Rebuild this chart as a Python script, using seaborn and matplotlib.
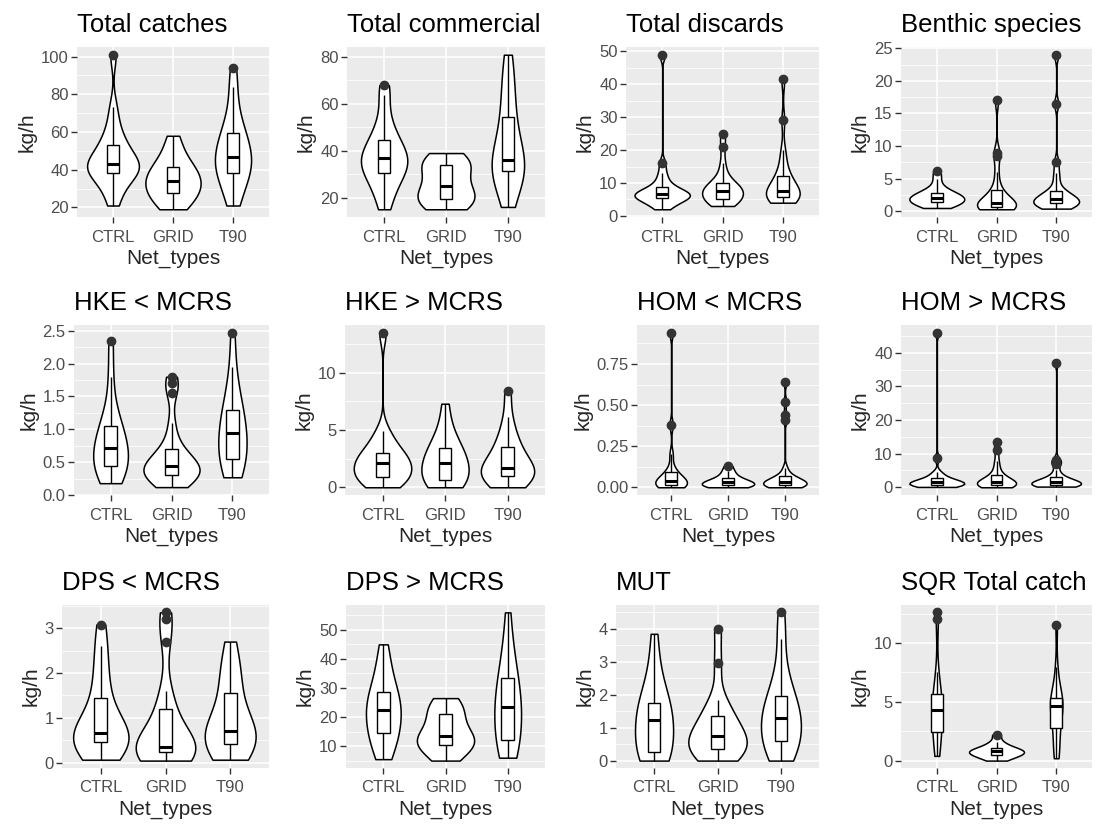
import matplotlib
matplotlib.use('Agg')
import matplotlib.pyplot as plt
import seaborn as sns
import numpy as np
import pandas as pd

net_types = ['CTRL', 'GRID', 'T90']

# values (kg/h per haul), one list per net type
catch_ctrl = [21, 27, 32, 35, 38, 39, 40, 41, 42, 43, 44, 46, 49, 52, 54, 58, 64, 73, 101]
catch_grid = [19, 21, 23, 25, 27, 28, 30, 32, 33, 34, 35, 37, 39, 41, 42, 44, 48, 53, 58]
catch_t90 = [21, 25, 30, 34, 37, 39, 41, 43, 45, 46, 47, 50, 54, 57, 59, 60, 66, 74, 84, 94]

comm_ctrl = [15, 20, 24, 27, 30, 31, 33, 34, 35, 37, 38, 39, 41, 43, 46, 49, 54, 64, 68]
comm_grid = [15, 16, 17, 18, 19, 20, 21, 23, 25, 25, 28, 32, 33, 34, 35, 36, 37, 39]
comm_t90 = [16, 20, 25, 28, 30, 31, 32, 33, 34, 35, 35, 37, 40, 44, 48, 52, 55, 60, 66, 70, 76, 81]

disc_ctrl = [2, 3, 4, 4.5, 5, 5.5, 5.8, 6, 6.3, 6.5, 6.7, 7, 7.5, 8, 8.5, 9.5, 11, 13, 16, 49]
disc_grid = [3, 3.5, 4, 4.5, 5, 5.2, 5.8, 6.5, 7, 7.5, 7.5, 8, 8.5, 9, 9.5, 10, 11, 13, 16, 21, 25]
disc_t90 = [4, 4.5, 5, 5.2, 5.5, 5.7, 6.3, 6.8, 7.2, 7.4, 7.6, 8.5, 9.5, 10.5, 11.5, 12.2, 14, 17, 20, 29, 41.5]

bent_ctrl = [0.5, 0.8, 1, 1.2, 1.3, 1.5, 1.7, 1.9, 2, 2.1, 2.3, 2.5, 2.7, 2.9, 3.2, 3.8, 5, 6.2]
bent_grid = [0.3, 0.4, 0.5, 0.5, 0.6, 0.7, 0.8, 0.9, 1, 1.1, 1.3, 1.6, 2, 2.5, 3, 4, 6, 8.5, 9, 17]
bent_t90 = [0.4, 0.6, 0.8, 1, 1, 1.2, 1.4, 1.5, 1.6, 1.7, 1.8, 2.1, 2.4, 2.7, 2.9, 3.1, 4.5, 5.8, 7.5, 16.5, 24]

hke_lo_ctrl = [0.18, 0.25, 0.32, 0.4, 0.44, 0.5, 0.58, 0.65, 0.72, 0.78, 0.85, 0.95, 1.05, 1.15, 1.35, 1.8, 2.35]
hke_lo_grid = [0.12, 0.16, 0.2, 0.26, 0.3, 0.31, 0.34, 0.37, 0.4, 0.43, 0.44, 0.48, 0.53, 0.58, 0.64, 0.7, 0.85, 1.1, 1.55, 1.7, 1.8]
hke_lo_t90 = [0.27, 0.35, 0.45, 0.52, 0.55, 0.65, 0.75, 0.85, 0.95, 1.0, 1.1, 1.2, 1.3, 1.45, 1.6, 1.95, 2.47]

hke_hi_ctrl = [0, 0.3, 0.6, 0.8, 0.9, 1.2, 1.5, 1.8, 2.1, 2.3, 2.5, 2.8, 3, 3.5, 4.2, 4.9, 13.5]
hke_hi_grid = [0, 0.2, 0.4, 0.5, 0.6, 1.0, 1.4, 1.8, 2.1, 2.4, 2.7, 3.0, 3.4, 3.8, 4.5, 5.5, 7.3]
hke_hi_t90 = [0, 0.3, 0.6, 0.9, 1.0, 1.2, 1.4, 1.55, 1.7, 2.0, 2.4, 3.0, 3.5, 4.0, 4.8, 6.1, 8.4]

hom_lo_ctrl = [0, 0, 0.005, 0.01, 0.015, 0.02, 0.03, 0.035, 0.04, 0.05, 0.06, 0.07, 0.09, 0.12, 0.2, 0.38, 0.94]
hom_lo_grid = [0, 0, 0.005, 0.01, 0.015, 0.02, 0.025, 0.03, 0.035, 0.04, 0.05, 0.06, 0.08, 0.1, 0.13]
hom_lo_t90 = [0, 0, 0, 0.005, 0.01, 0.01, 0.015, 0.02, 0.02, 0.025, 0.03, 0.03, 0.035, 0.04, 0.045,
              0.05, 0.055, 0.06, 0.07, 0.09, 0.12, 0.41, 0.44, 0.52, 0.64]

hom_hi_ctrl = [0.1, 0.3, 0.5, 0.6, 0.8, 1.0, 1.2, 1.3, 1.5, 1.8, 2.0, 2.2, 2.8, 3.5, 4.5, 8.7, 46]
hom_hi_grid = [0, 0.2, 0.4, 0.5, 0.7, 0.9, 1.1, 1.3, 1.5, 1.8, 2.1, 2.5, 3, 4, 5.5, 7.7, 11, 13.5]
hom_hi_t90 = [0.2, 0.3, 0.4, 0.5, 0.6, 0.7, 0.8, 0.9, 1.0, 1.2, 1.4, 1.5, 1.6, 1.8, 2.0, 2.3, 2.6,
              3.0, 3.8, 5.0, 7.0, 7.6, 8.2, 37]

dps_lo_ctrl = [0.07, 0.15, 0.3, 0.4, 0.45, 0.5, 0.55, 0.6, 0.65, 0.7, 0.8, 0.95, 1.2, 1.52, 1.8, 2.2, 2.6, 3.08]
dps_lo_grid = [0.05, 0.1, 0.15, 0.2, 0.22, 0.25, 0.3, 0.33, 0.34, 0.36, 0.5, 0.6, 0.8, 1.1, 1.3, 1.6, 2.7, 3.2, 3.35]
dps_lo_t90 = [0.07, 0.2, 0.3, 0.4, 0.43, 0.55, 0.6, 0.65, 0.7, 0.8, 0.95, 1.2, 1.55, 1.8, 2.0, 2.3, 2.7]

dps_hi_ctrl = [5.5, 8, 11, 13, 14, 16, 18, 20, 21.5, 23, 25, 26, 27, 29, 32, 36, 40, 45]
dps_hi_grid = [5, 7, 8.5, 10, 10.5, 11, 12, 13, 13.5, 14, 16, 19, 21, 22, 23.5, 25, 26.5]
dps_hi_t90 = [6, 8, 10, 11, 12, 17, 20, 22, 23.5, 25, 27, 30, 33.5, 36, 40, 46, 56]

mut_ctrl = [0, 0.05, 0.1, 0.2, 0.27, 0.5, 0.8, 1.0, 1.22, 1.35, 1.5, 1.65, 1.75, 2.0, 2.4, 3.0, 3.85]
mut_grid = [0, 0.1, 0.2, 0.3, 0.35, 0.45, 0.55, 0.65, 0.75, 0.85, 1.0, 1.2, 1.35, 1.6, 1.85, 2.95, 4.0]
mut_t90 = [0, 0.15, 0.3, 0.5, 0.6, 0.8, 1.0, 1.15, 1.3, 1.45, 1.6, 1.8, 1.95, 2.3, 2.8, 3.7, 4.5]

sqr_ctrl = [0.4, 0.8, 1.5, 2.0, 2.2, 3.0, 3.5, 3.9, 4.2, 4.4, 4.7, 5.0, 5.3, 5.8, 6.5, 7.5, 12, 12.6]
sqr_grid = [0, 0.2, 0.35, 0.5, 0.55, 0.65, 0.75, 0.8, 0.9, 1.0, 1.1, 1.3, 1.6, 2.2]
sqr_t90 = [0.2, 0.6, 1.2, 2.0, 2.8, 3.3, 3.8, 4.2, 4.6, 4.8, 5.0, 5.2, 5.3, 5.8, 6.5, 8.0, 11.5]

titles = ['Total catches', 'Total commercial', 'Total discards', 'Benthic species',
          'HKE < MCRS', 'HKE > MCRS', 'HOM < MCRS', 'HOM > MCRS',
          'DPS < MCRS', 'DPS > MCRS', 'MUT', 'SQR Total catch']

y_ticks = [[20, 40, 60, 80, 100], [20, 40, 60, 80], [0, 10, 20, 30, 40, 50], [0, 5, 10, 15, 20, 25],
           [0, 0.5, 1, 1.5, 2, 2.5], [0, 5, 10], [0, 0.25, 0.5, 0.75], [0, 10, 20, 30, 40],
           [0, 1, 2, 3], [10, 20, 30, 40, 50], [0, 1, 2, 3, 4], [0, 5, 10]]
y_labels = [['20', '40', '60', '80', '100'], ['20', '40', '60', '80'], ['0', '10', '20', '30', '40', '50'],
            ['0', '5', '10', '15', '20', '25'], ['0.0', '0.5', '1.0', '1.5', '2.0', '2.5'], ['0', '5', '10'],
            ['0.00', '0.25', '0.50', '0.75'], ['0', '10', '20', '30', '40'], ['0', '1', '2', '3'],
            ['10', '20', '30', '40', '50'], ['0', '1', '2', '3', '4'], ['0', '5', '10']]

groups = [[catch_ctrl, catch_grid, catch_t90], [comm_ctrl, comm_grid, comm_t90],
          [disc_ctrl, disc_grid, disc_t90], [bent_ctrl, bent_grid, bent_t90],
          [hke_lo_ctrl, hke_lo_grid, hke_lo_t90], [hke_hi_ctrl, hke_hi_grid, hke_hi_t90],
          [hom_lo_ctrl, hom_lo_grid, hom_lo_t90], [hom_hi_ctrl, hom_hi_grid, hom_hi_t90],
          [dps_lo_ctrl, dps_lo_grid, dps_lo_t90], [dps_hi_ctrl, dps_hi_grid, dps_hi_t90],
          [mut_ctrl, mut_grid, mut_t90], [sqr_ctrl, sqr_grid, sqr_t90]]

# panel layout in pixels
W, H = 1096, 826
panel_left = [77, 347, 626, 901, 74, 345, 637, 901, 62, 346, 616, 901]
col_right = [269, 545, 819, 1092]
row_top = [47, 325, 605]
row_bottom = [217, 495, 768]


def nrd0(kde):
    # R's default bandwidth (bw.nrd0), as a factor on the sample sd
    x = kde.dataset[0]
    sd = x.std(ddof=1)
    iqr = np.subtract(*np.percentile(x, [75, 25]))
    lo = min(sd, iqr / 1.34) if iqr > 0 else sd
    return 0.9 * lo * len(x) ** -0.2 / sd


sns.set_theme(style='darkgrid')
plt.rcParams['font.family'] = ['Liberation Sans', 'DejaVu Sans']

fig = plt.figure(figsize=(W / 100, H / 100), dpi=100)

for i, title in enumerate(titles):
    r, c = divmod(i, 4)
    left, right = panel_left[i], col_right[c]
    top, bottom = row_top[r], row_bottom[r]
    ax = fig.add_axes([left / W, 1 - bottom / H, (right - left) / W, (bottom - top) / H])

    vals = groups[i]
    df = pd.DataFrame({'Net_types': np.repeat(net_types, [len(v) for v in vals]),
                       'kg/h': np.concatenate(vals)})

    sns.violinplot(data=df, x='Net_types', y='kg/h', ax=ax, cut=0, inner=None,
                   density_norm='area', width=0.92, color='white', saturation=1,
                   linecolor='black', linewidth=1.1, bw_method=nrd0, bw_adjust=1.25)
    sns.boxplot(data=df, x='Net_types', y='kg/h', ax=ax, width=0.2, color='white', saturation=1,
                linecolor='black', linewidth=1.0, showcaps=False,
                medianprops=dict(linewidth=2.2),
                flierprops=dict(marker='o', markerfacecolor='#333333', markeredgecolor='#333333',
                                markersize=6))

    lo, hi = df['kg/h'].min(), df['kg/h'].max()
    pad = 0.05 * (hi - lo)
    ax.set_ylim(lo - pad, hi + pad)
    ax.set_xlim(-0.6, 2.6)

    ticks = y_ticks[i]
    step = ticks[1] - ticks[0]
    minors = np.arange(ticks[0] - step / 2, ticks[-1] + step, step)
    minors = minors[(minors > lo - pad) & (minors < hi + pad)]
    ax.set_yticks(ticks)
    ax.set_yticklabels(y_labels[i])
    ax.set_yticks(minors, minor=True)

    ax.set_facecolor('#EBEBEB')
    ax.grid(which='major', color='white', linewidth=1.1)
    ax.grid(which='minor', axis='y', color='white', linewidth=0.55)
    ax.set_axisbelow(True)
    for s in ax.spines.values():
        s.set_visible(False)
    ax.tick_params(which='major', length=4, width=1, color='#333333', labelsize=12,
                   labelcolor='#4D4D4D', left=True, bottom=True)
    ax.tick_params(axis='x', pad=5)
    ax.tick_params(axis='y', pad=2)
    ax.tick_params(which='minor', length=0)

    ax.set_title(title, loc='left', fontsize=18.5, pad=11, color='black')
    ax.set_xlabel('Net_types', fontsize=15, labelpad=3)
    ax.set_ylabel('kg/h', fontsize=15, labelpad=3)

fig.savefig('out.png', dpi=100)
